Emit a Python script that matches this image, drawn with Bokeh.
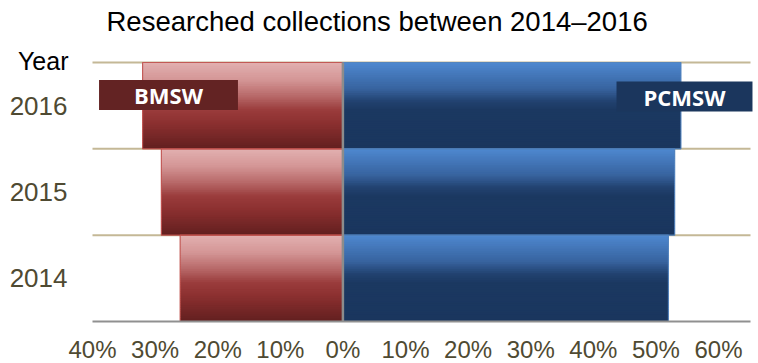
from bokeh.plotting import figure
from bokeh.models import Label, ColumnDataSource
from bokeh.core.properties import value
from bokeh.embed import file_html
from bokeh.resources import INLINE

# ---- data ----
years = ["2014", "2015", "2016"]
bmsw = [26, 29, 32]
pcmsw = [52, 53, 54]
tick_values = [-40, -30, -20, -10, 0, 10, 20, 30, 40, 50, 60]
tick_labels = ["40%", "30%", "20%", "10%", "0%", "10%", "20%", "30%", "40%", "50%", "60%"]
series_names = ["BMSW", "PCMSW"]
title_text = "Researched collections between 2014\u20132016"
year_title = "Year"

# ---- layout / style constants (pixels) ----
W, H = 758, 363
PLOT_L, PLOT_R, PLOT_T, PLOT_B = 92, 750, 62, 321   # plot area edges inside the canvas
PX = 6.26                                            # pixels per percent
ROW = (PLOT_B - PLOT_T) / len(years)                 # pixels per category band
FONT = "Liberation Sans"
TXT = "#4f4a32"
red_stops = [(0.0, (226, 176, 176)), (0.2, (212, 150, 150)), (0.4, (182, 102, 102)),
             (0.55, (154, 60, 60)), (0.7, (140, 48, 48)), (1.0, (98, 31, 31))]
blue_stops = [(0.0, (78, 136, 208)), (0.15, (67, 118, 184)), (0.3, (56, 100, 160)),
              (0.45, (34, 66, 112)), (0.55, (27, 56, 97)), (1.0, (26, 54, 94))]


def grad(stops, t):
    for (t0, c0), (t1, c1) in zip(stops[:-1], stops[1:]):
        if t0 <= t <= t1:
            f = (t - t0) / (t1 - t0)
            c = [round(a + (b - a) * f) for a, b in zip(c0, c1)]
            return "#%02x%02x%02x" % tuple(c)
    return "#%02x%02x%02x" % stops[-1][1]


def dx(px):
    return px / PX


def dy(px):
    return px / ROW


xmin = tick_values[0]
x_start = xmin - dx(PLOT_L)
x_end = xmin + dx(W - PLOT_L)
x_grid_end = xmin + dx(PLOT_R - PLOT_L)
y_top = len(years) - 0.5
y_bot = -0.5
y_end = y_top + dy(PLOT_T)
y_start = y_bot - dy(H - PLOT_B)

p = figure(width=W, height=H, x_range=(x_start, x_end), y_range=(y_start, y_end),
           output_backend="svg", toolbar_location=None,
           x_axis_location=None, y_axis_location=None,
           min_border=0, min_border_left=0, min_border_right=0,
           min_border_top=0, min_border_bottom=0)
p.outline_line_color = None
p.background_fill_color = "white"
p.grid.visible = False

idx = list(range(len(years)))

# category separator grid lines
bounds = [i + 0.5 for i in idx]
p.segment(x0=[xmin] * len(bounds), x1=[x_grid_end] * len(bounds), y0=bounds, y1=bounds,
          line_color="#c4b896", line_width=2)

# gradient bars built from thin overlapping strips
N = 48
for vals, stops, sign in ((bmsw, red_stops, -1), (pcmsw, blue_stops, 1)):
    tops, bots, lefts, rights, cols = [], [], [], [], []
    for k in range(N):
        c = grad(stops, (k + 0.5) / N)
        for i, v in zip(idx, vals):
            tops.append(i + 0.5 - k / N)
            bots.append(max(i - 0.5, i + 0.5 - (k + 1.7) / N))
            if sign < 0:
                lefts.append(-v); rights.append(0)
            else:
                lefts.append(0); rights.append(v)
            cols.append(c)
    src = ColumnDataSource(dict(top=tops, bottom=bots, left=lefts, right=rights, color=cols))
    p.quad(top="top", bottom="bottom", left="left", right="right", source=src,
           fill_color="color", line_color=None)

# bar outlines
p.hbar(y=idx, left=[-v for v in bmsw], right=0, height=1.0, fill_color=None,
       line_color="#c0504d", line_width=1.2, line_alpha=0.9)
p.hbar(y=idx, left=0, right=pcmsw, height=1.0, fill_color=None,
       line_color="#4f81bd", line_width=1.2, line_alpha=0.9)

# zero line and bottom axis line
p.segment(x0=[0], x1=[0], y0=[y_bot], y1=[y_top], line_color="#8c8c8c", line_width=2.5)
p.segment(x0=[xmin], x1=[x_grid_end], y0=[y_bot], y1=[y_bot], line_color="#909090", line_width=2)

# x tick labels
p.text(x=tick_values, y=[y_bot - dy(349 - PLOT_B)] * len(tick_values), text=tick_labels,
       text_align="center", text_baseline="middle",
       text_font=value(FONT), text_font_size="24px", text_color=TXT)

# year labels
p.text(x=[xmin - dx(25)] * len(years), y=idx, text=years,
       text_align="right", text_baseline="middle",
       text_font=value(FONT), text_font_size="26px", text_color=TXT)

# title and "Year"
p.add_layout(Label(x=xmin + dx(14), y=y_top + dy(PLOT_T - 21.3), text=title_text,
                   text_font=FONT, text_font_size="27.5px", text_color="black",
                   text_baseline="middle", text_align="left"))
p.add_layout(Label(x=xmin - dx(24), y=y_top + dy(1.5), text=year_title,
                   text_font=FONT, text_font_size="25px", text_color="black",
                   text_baseline="middle", text_align="right"))

# series name boxes
p.add_layout(Label(x=xmin + dx(168 - PLOT_L), y=y_top - dy(94.5 - PLOT_T),
                   text=series_names[0], text_font="Open Sans",
                   text_font_style="bold", text_font_size="22px", text_color="white",
                   text_align="center", text_baseline="middle",
                   background_fill_color="#632323",
                   padding=dict(left=35, right=35, top=0, bottom=0)))
p.add_layout(Label(x=xmin + dx(684 - PLOT_L), y=y_top - dy(96 - PLOT_T),
                   text=series_names[1], text_font="Open Sans",
                   text_font_style="bold", text_font_size="22px", text_color="white",
                   text_align="center", text_baseline="middle",
                   background_fill_color="#1b365d",
                   padding=dict(left=27, right=27, top=0, bottom=0)))

open("out.html", "w").write(file_html(p, INLINE))
